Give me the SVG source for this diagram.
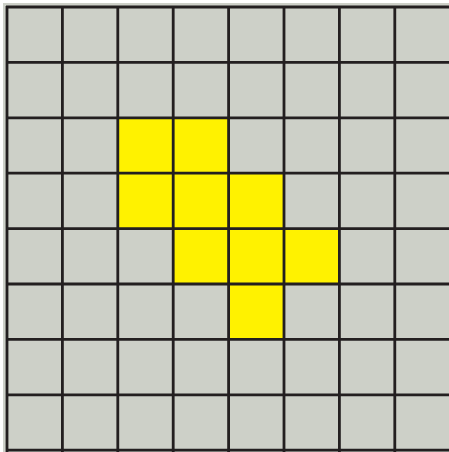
<svg xmlns="http://www.w3.org/2000/svg" width="449" height="452" viewBox="0 0 449 452">
<style>
.bg{fill:#cdd0c8}
.y{fill:#fff200}
.g{stroke:#231f20;stroke-width:2.8;fill:none}
</style>
<rect x="0" y="0" width="449" height="452" fill="#ffffff"/>
<rect class="bg" x="3" y="3" width="449" height="449"/>
<g id="yellow-cells">
<rect class="y" x="117.8" y="117.8" width="55.4" height="55.4"/>
<rect class="y" x="173.2" y="117.8" width="55.4" height="55.4"/>
<rect class="y" x="117.8" y="173.2" width="55.4" height="55.4"/>
<rect class="y" x="173.2" y="173.2" width="55.4" height="55.4"/>
<rect class="y" x="228.6" y="173.2" width="55.4" height="55.4"/>
<rect class="y" x="173.2" y="228.6" width="55.4" height="55.4"/>
<rect class="y" x="228.6" y="228.6" width="55.4" height="55.4"/>
<rect class="y" x="284" y="228.6" width="55.4" height="55.4"/>
<rect class="y" x="228.6" y="284" width="55.4" height="55.4"/>
</g>
<g id="grid" class="g">
<path d="M7 6V452M62.4 6V452M117.8 6V452M173.2 6V452M228.6 6V452M284 6V452M339.4 6V452M394.8 6V452"/>
<path d="M6 7H452M6 62.4H452M6 117.8H452M6 173.2H452M6 228.6H452M6 284H452M6 339.4H452M6 394.8H452M6 450.2H452"/>
</g>
</svg>
